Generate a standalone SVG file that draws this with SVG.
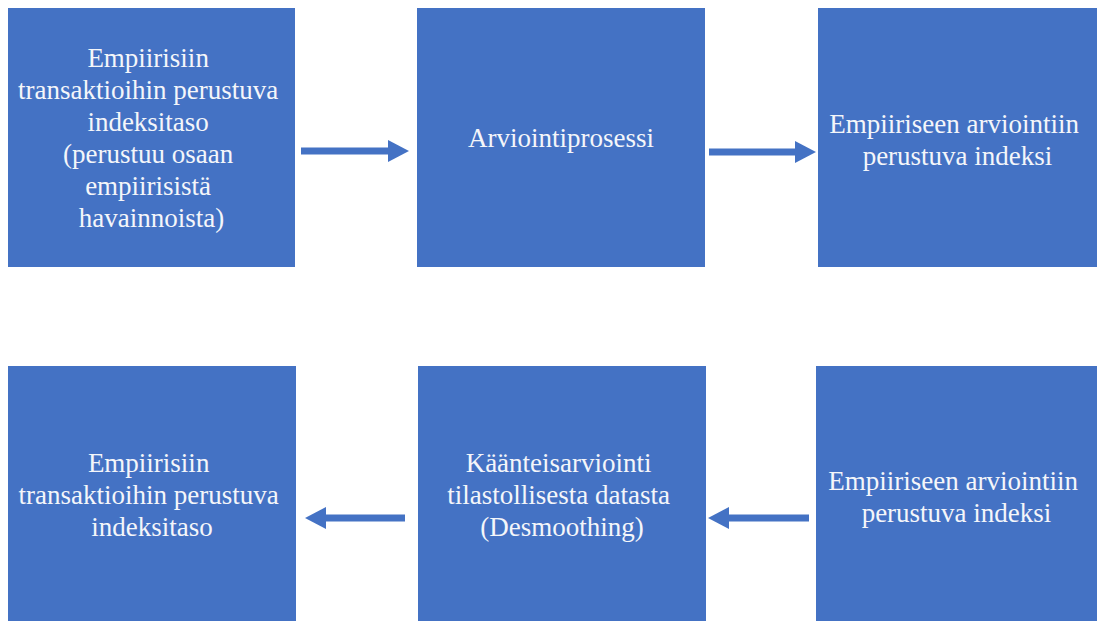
<svg xmlns="http://www.w3.org/2000/svg" width="1100" height="621" viewBox="0 0 1100 621">
  <defs>
    <style>
      .box { fill: #4472C4; }
      .lbl { font-family: "Liberation Serif", "Times New Roman", serif; font-size: 27px; fill: #F4F6FA; text-anchor: middle; }
      .conn { stroke: #4472C4; stroke-width: 7; fill: none; }
    </style>
    <marker id="head" markerUnits="userSpaceOnUse" markerWidth="21" markerHeight="22" refX="0" refY="11" orient="auto" viewBox="0 0 21 22">
      <path d="M0,0 L21,11 L0,22 Z" fill="#4472C4"/>
    </marker>
  </defs>
  <rect width="1100" height="621" fill="#FFFFFF"/>

  <g id="node-empiirisiin-top">
    <rect class="box" x="8" y="8" width="287" height="259"/>
    <text class="lbl">
      <tspan x="151.5" y="67">Empiirisiin</tspan>
      <tspan x="151.5" y="99">transaktioihin perustuva</tspan>
      <tspan x="151.5" y="131">indeksitaso</tspan>
      <tspan x="151.5" y="163">(perustuu osaan</tspan>
      <tspan x="151.5" y="195">empiirisistä</tspan>
      <tspan x="151.5" y="227">havainnoista)</tspan>
    </text>
  </g>

  <g id="node-arviointiprosessi">
    <rect class="box" x="417" y="8" width="288" height="259"/>
    <text class="lbl"><tspan x="561" y="147">Arviointiprosessi</tspan></text>
  </g>

  <g id="node-empiiriseen-top">
    <rect class="box" x="818" y="8" width="279" height="259"/>
    <text class="lbl">
      <tspan x="957.5" y="133">Empiiriseen arviointiin</tspan>
      <tspan x="957.5" y="165">perustuva  indeksi</tspan>
    </text>
  </g>

  <g id="node-empiirisiin-bottom">
    <rect class="box" x="8" y="366" width="288" height="259"/>
    <text class="lbl">
      <tspan x="152" y="472">Empiirisiin</tspan>
      <tspan x="152" y="504">transaktioihin perustuva</tspan>
      <tspan x="152" y="536">indeksitaso</tspan>
    </text>
  </g>

  <g id="node-kaanteisarviointi">
    <rect class="box" x="418" y="366" width="288" height="259"/>
    <text class="lbl">
      <tspan x="562" y="472">Käänteisarviointi</tspan>
      <tspan x="562" y="504">tilastollisesta  datasta</tspan>
      <tspan x="562" y="536">(Desmoothing)</tspan>
    </text>
  </g>

  <g id="node-empiiriseen-bottom">
    <rect class="box" x="816" y="366" width="281" height="259"/>
    <text class="lbl">
      <tspan x="956.5" y="490">Empiiriseen arviointiin</tspan>
      <tspan x="956.5" y="522">perustuva  indeksi</tspan>
    </text>
  </g>

  <g id="connectors">
    <line class="conn" x1="301" y1="151" x2="388" y2="151" marker-end="url(#head)"/>
    <line class="conn" x1="709" y1="152" x2="795" y2="152" marker-end="url(#head)"/>
    <line class="conn" x1="405" y1="518" x2="326" y2="518" marker-end="url(#head)"/>
    <line class="conn" x1="809" y1="518" x2="729" y2="518" marker-end="url(#head)"/>
  </g>
</svg>
